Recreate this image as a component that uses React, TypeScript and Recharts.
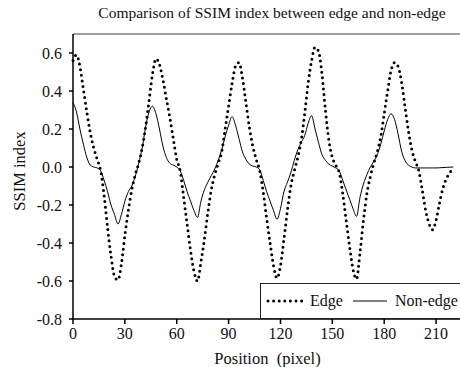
import { LineChart, Line, XAxis, YAxis, ReferenceLine, Legend } from 'recharts';

// pixel positions along the profile (step 2)
const positions = [
  0, 2, 4, 6, 8, 10, 12, 14, 16, 18, 20, 22, 24, 26, 28, 30, 32, 34, 36, 38, 40, 42, 44,
  46, 48, 50, 52, 54, 56, 58, 60, 62, 64, 66, 68, 70, 72, 74, 76, 78, 80, 82, 84, 86, 88, 90,
  92, 94, 96, 98, 100, 102, 104, 106, 108, 110, 112, 114, 116, 118, 120, 122, 124, 126, 128, 130, 132, 134, 136,
  138, 140, 142, 144, 146, 148, 150, 152, 154, 156, 158, 160, 162, 164, 166, 168, 170, 172, 174, 176, 178, 180, 182,
  184, 186, 188, 190, 192, 194, 196, 198, 200, 202, 204, 206, 208, 210, 212, 214, 216, 218, 220,
];

const edgeSsim = [
  0.56, 0.59, 0.53, 0.41, 0.29, 0.18, 0.1, 0.04, -0.02, -0.15, -0.32, -0.47, -0.575, -0.595, -0.51, -0.36, -0.23, -0.12, -0.04, 0.02, 0.1, 0.21, 0.35,
  0.49, 0.57, 0.54, 0.46, 0.36, 0.26, 0.15, 0.04, -0.02, -0.16, -0.3, -0.44, -0.55, -0.6, -0.5, -0.38, -0.24, -0.12, -0.04, 0.02, 0.08, 0.2, 0.32,
  0.44, 0.53, 0.55, 0.47, 0.34, 0.21, 0.11, 0.04, -0.02, -0.13, -0.27, -0.4, -0.52, -0.585, -0.52, -0.38, -0.23, -0.1, -0.02, 0.05, 0.14, 0.28, 0.44,
  0.56, 0.63, 0.61, 0.49, 0.3, 0.14, 0.05, 0.01, -0.03, -0.14, -0.28, -0.42, -0.54, -0.59, -0.45, -0.28, -0.14, -0.05, 0.02, 0.08, 0.16, 0.28, 0.4,
  0.51, 0.55, 0.53, 0.45, 0.32, 0.19, 0.09, 0.03, -0.02, -0.12, -0.23, -0.3, -0.33, -0.28, -0.19, -0.11, -0.06, -0.03, 0.0,
];

const nonEdgeSsim = [
  0.34, 0.29, 0.2, 0.12, 0.05, 0.01, 0.0, -0.005, -0.02, -0.07, -0.13, -0.2, -0.25, -0.3, -0.25, -0.18, -0.13, -0.1, -0.05, 0.02, 0.1, 0.21, 0.29,
  0.32, 0.28, 0.2, 0.11, 0.05, 0.02, 0.01, 0.0, -0.02, -0.07, -0.13, -0.18, -0.23, -0.265, -0.18, -0.12, -0.08, -0.045, -0.01, 0.035, 0.09, 0.16, 0.22,
  0.265, 0.22, 0.15, 0.08, 0.04, 0.015, 0.005, 0.0, -0.015, -0.07, -0.13, -0.18, -0.23, -0.275, -0.22, -0.13, -0.08, -0.03, 0.035, 0.09, 0.13, 0.165, 0.23,
  0.27, 0.2, 0.13, 0.065, 0.035, 0.015, 0.005, -0.005, -0.02, -0.07, -0.12, -0.17, -0.22, -0.26, -0.16, -0.09, -0.04, 0.0, 0.03, 0.065, 0.12, 0.19, 0.25,
  0.28, 0.25, 0.175, 0.085, 0.035, 0.01, 0.0, -0.005, -0.005, -0.005, -0.005, -0.005, -0.005, -0.005, -0.004, -0.003, -0.002, -0.001, 0.0,
];

const xTicks = [0, 30, 60, 90, 120, 150, 180, 210];
const yTicks = [-0.8, -0.6, -0.4, -0.2, 0, 0.2, 0.4, 0.6];

const data = positions.map((x, i) => ({ x, edge: edgeSsim[i], nonEdge: nonEdgeSsim[i] }));

const FONT = '"Liberation Serif", "Times New Roman", serif';

const sample: Record<string, { dash?: string; width: number; gap: number }> = {
  edge: { dash: '0 5.6', width: 3, gap: 8 },
  nonEdge: { width: 1, gap: 0 },
};

function LegendBox({ payload }: any) {
  return (
    <div
      style={{
        boxSizing: 'border-box',
        width: 215,
        height: 36,
        border: '1.5px solid #222',
        background: '#fff',
        display: 'flex',
        alignItems: 'center',
        paddingLeft: 5,
        fontFamily: FONT,
        fontSize: 16,
        color: '#111',
        whiteSpace: 'nowrap',
      }}
    >
      {(payload || []).map((p: any) => {
        const s = sample[p.dataKey] || { width: 1, gap: 0 };
        return (
          <span key={p.dataKey} style={{ display: 'flex', alignItems: 'center', marginRight: s.gap }}>
            <svg width={38} height={10}>
              <line
                x1={2}
                y1={5}
                x2={36}
                y2={5}
                stroke="#000"
                strokeWidth={s.width}
                strokeDasharray={s.dash}
                strokeLinecap={s.dash ? 'round' : 'butt'}
              />
            </svg>
            <span style={{ marginLeft: 6 }}>{p.value}</span>
          </span>
        );
      })}
    </div>
  );
}

export default function App() {
  return (
    <div
      style={{
        position: 'absolute',
        left: 0,
        top: 0,
        width: 460,
        height: 367,
        overflow: 'hidden',
        background: '#fff',
        fontFamily: FONT,
      }}
    >
      <div
        style={{
          position: 'absolute',
          left: 272,
          top: 4,
          transform: 'translateX(-50%)',
          whiteSpace: 'nowrap',
          fontSize: 15.5,
          color: '#111',
        }}
      >
        Comparison of SSIM index between edge and non-edge
      </div>
      <LineChart
        width={470}
        height={367}
        data={data}
        margin={{ top: 34, right: 8, bottom: 0, left: 0 }}
        style={{ fontFamily: FONT }}
      >
        <XAxis
          dataKey="x"
          type="number"
          domain={[0, 225]}
          ticks={xTicks}
          height={48}
          stroke="#000"
          strokeWidth={1.5}
          tickSize={5}
          tickMargin={4}
          tick={{ fill: '#111', fontSize: 16, fontFamily: FONT }}
          label={{
            value: 'Position\u00a0 (pixel)',
            position: 'insideBottom',
            offset: 3,
            fill: '#111',
            fontSize: 16.5,
            fontFamily: FONT,
          }}
        />
        <YAxis
          type="number"
          domain={[-0.8, 0.7]}
          ticks={yTicks}
          width={73}
          stroke="#000"
          strokeWidth={1.5}
          tickSize={4}
          tickMargin={7}
          tickFormatter={(v: number) => v.toFixed(1)}
          tick={{ fill: '#111', fontSize: 16, fontFamily: FONT }}
          label={{
            content: () => (
              <text
                x={25}
                y={171}
                transform="rotate(-90 25 171)"
                textAnchor="middle"
                fill="#111"
                fontSize={16.5}
                fontFamily={FONT}
              >
                SSIM index
              </text>
            ),
          }}
        />
        <ReferenceLine y={0.7} stroke="#444" strokeWidth={1.2} />
        <Line
          dataKey="edge"
          name="Edge"
          type="monotone"
          stroke="#000"
          strokeWidth={3}
          strokeDasharray="0 5.6"
          strokeLinecap="round"
          dot={false}
          isAnimationActive={false}
        />
        <Line
          dataKey="nonEdge"
          name="Non-edge"
          type="monotone"
          stroke="#000"
          strokeWidth={1}
          dot={false}
          isAnimationActive={false}
        />
        <Legend
          layout="horizontal"
          verticalAlign="middle"
          align="center"
          content={<LegendBox />}
          wrapperStyle={{ left: 260, top: 283, width: 215, height: 36 }}
        />
      </LineChart>
    </div>
  );
}
